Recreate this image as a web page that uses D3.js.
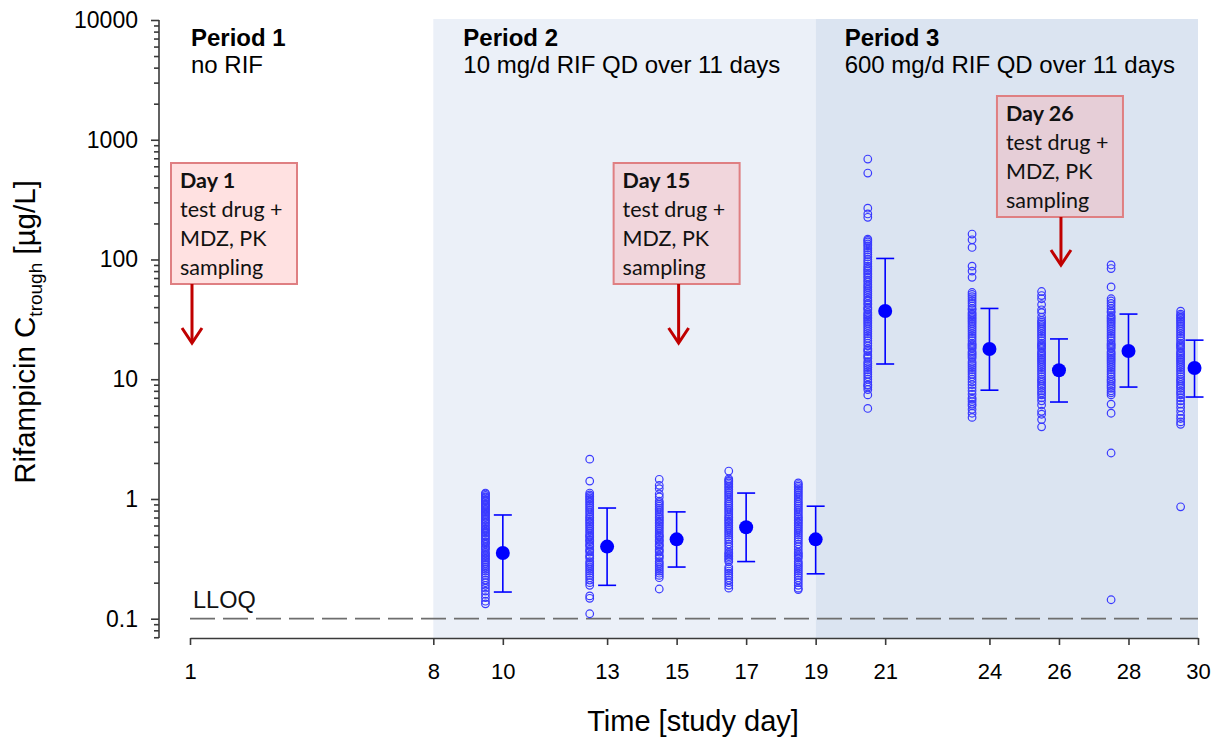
<!DOCTYPE html>
<html>
<head>
<meta charset="utf-8">
<script src="https://cdn.jsdelivr.net/npm/d3@7"></script>
<style>
  html, body { margin: 0; padding: 0; background: #ffffff; }
  svg { display: block; }
</style>
</head>
<body>
<svg id="chart" width="1218" height="740"></svg>
<script>
// ---------------- DATA ----------------
const xTickValues = [1, 8, 10, 13, 15, 17, 19, 21, 24, 26, 28, 30];
const yMajorTicks = [0.1, 1, 10, 100, 1000, 10000];
const yTickLabels = ["0.1", "1", "10", "100", "1000", "10000"];

const periods = [
  { name: "Period 1", desc: "no RIF", start: 1, end: 8 },
  { name: "Period 2", desc: "10 mg/d RIF QD over 11 days", start: 8, end: 19 },
  { name: "Period 3", desc: "600 mg/d RIF QD over 11 days", start: 19, end: 30 }
];

const lloq = 0.1;

// individual trough concentrations (open circles), plotted half a day before each visit
const scatterDays = [9.5, 12.5, 14.5, 16.5, 18.5, 20.5, 23.5, 25.5, 27.5, 29.5];
const vals10 = [1.12, 1.1, 1.07, 1.04, 1.02, 0.99, 0.97, 0.95, 0.92, 0.9, 0.88, 0.86, 0.84, 0.82, 0.8, 0.78, 0.76, 0.74, 0.72, 0.7, 0.68, 0.66, 0.64, 0.62, 0.6, 0.58, 0.56, 0.55, 0.53, 0.52, 0.5, 0.49, 0.47, 0.46, 0.44, 0.43, 0.42, 0.4, 0.39, 0.38, 0.36, 0.35, 0.34, 0.33, 0.32, 0.31, 0.3, 0.29, 0.28, 0.27, 0.26, 0.25, 0.24, 0.23, 0.22, 0.21, 0.2, 0.19, 0.18, 0.17, 0.16, 0.15, 0.14, 0.133];
const vals13 = [2.15, 1.41, 1.12, 1.08, 1.05, 1.02, 0.99, 0.96, 0.93, 0.9, 0.87, 0.84, 0.81, 0.78, 0.75, 0.72, 0.7, 0.68, 0.66, 0.64, 0.62, 0.6, 0.58, 0.56, 0.54, 0.52, 0.5, 0.49, 0.48, 0.46, 0.45, 0.44, 0.42, 0.41, 0.4, 0.38, 0.37, 0.36, 0.34, 0.33, 0.32, 0.3, 0.29, 0.28, 0.27, 0.26, 0.25, 0.24, 0.23, 0.22, 0.21, 0.2, 0.19, 0.155, 0.148, 0.11];
const vals15 = [1.46, 1.3, 1.22, 1.1, 1.04, 0.96, 0.93, 0.9, 0.87, 0.84, 0.81, 0.78, 0.75, 0.72, 0.7, 0.68, 0.66, 0.64, 0.62, 0.6, 0.58, 0.56, 0.54, 0.52, 0.5, 0.49, 0.48, 0.46, 0.45, 0.44, 0.42, 0.41, 0.4, 0.38, 0.37, 0.36, 0.34, 0.33, 0.32, 0.3, 0.29, 0.28, 0.27, 0.26, 0.25, 0.24, 0.23, 0.22, 0.177];
const vals17 = [1.71, 1.47, 1.43, 1.4, 1.36, 1.32, 1.28, 1.24, 1.2, 1.16, 1.12, 1.08, 1.04, 1.0, 0.96, 0.93, 0.9, 0.87, 0.84, 0.81, 0.78, 0.75, 0.72, 0.7, 0.68, 0.66, 0.64, 0.62, 0.6, 0.58, 0.56, 0.54, 0.52, 0.5, 0.48, 0.46, 0.44, 0.42, 0.4, 0.38, 0.36, 0.35, 0.34, 0.33, 0.32, 0.31, 0.3, 0.27, 0.26, 0.25, 0.24, 0.23, 0.22, 0.21, 0.2, 0.19, 0.18];
const vals19 = [1.36, 1.32, 1.28, 1.24, 1.2, 1.16, 1.12, 1.08, 1.04, 1.0, 0.96, 0.93, 0.9, 0.87, 0.84, 0.81, 0.78, 0.75, 0.72, 0.7, 0.68, 0.66, 0.64, 0.62, 0.6, 0.58, 0.56, 0.54, 0.52, 0.5, 0.48, 0.46, 0.44, 0.42, 0.4, 0.38, 0.36, 0.35, 0.34, 0.33, 0.32, 0.3, 0.29, 0.28, 0.27, 0.26, 0.25, 0.24, 0.23, 0.22, 0.21, 0.2, 0.19, 0.18, 0.175];
const vals21 = [690, 527, 268, 240, 225, 148, 144, 140, 135, 130, 125, 120, 115, 110, 105, 100, 96, 92, 88, 85, 82, 80, 77, 75, 72, 70, 67, 65, 62, 60, 58, 56, 54, 52, 50, 48, 46, 45, 43, 42, 40, 39, 38, 36, 35, 34, 33, 32, 31, 30, 29, 28, 27, 26, 25, 24, 23, 22, 21, 20, 19, 18, 17.5, 17, 16, 15.5, 15, 14, 13.5, 13, 12.5, 12, 11.5, 11, 10.5, 10, 9.5, 9, 8.9, 8.6, 8.2, 7.4, 5.7];
const vals24 = [163, 146, 126, 88, 80, 71, 53, 51, 49, 47, 45, 43, 41, 39, 38, 36, 35, 34, 33, 32, 31, 30, 29, 28, 27, 26, 25, 24, 23, 22, 21, 20, 19.5, 19, 18.5, 18, 17, 16.5, 16, 15.5, 15, 14, 13.5, 13, 12.5, 12, 11.5, 11, 10.5, 10, 9.5, 9, 8.5, 8, 7.5, 7, 6.8, 6.5, 6.2, 6, 5.6, 5.2, 4.8];
const vals26 = [54, 50, 47, 42, 38, 36, 33, 31, 30, 29, 28, 27, 26, 25, 24, 23, 22, 21, 20, 19.5, 19, 18.5, 18, 17, 16.5, 16, 15.5, 15, 14.5, 14, 13.5, 13, 12.5, 12, 11.5, 11, 10.5, 10, 9.7, 9.4, 9, 8.7, 8.4, 8, 7.7, 7.4, 7, 6.6, 6.1, 5.4, 5.1, 4.6, 4.0];
const vals28 = [90, 84, 59, 47, 45, 43, 41, 39, 37, 36, 34, 33, 32, 31, 30, 29, 28, 27, 26, 25, 24, 23, 22, 21, 20, 19.5, 19, 18.5, 18, 17, 16.5, 16, 15.5, 15, 14.5, 14, 13.5, 13, 12.5, 12, 11.5, 11, 10.5, 10, 9.7, 9.4, 9, 8.7, 8.4, 8, 7.7, 7.4, 6.2, 5.2, 2.42, 0.144];
const vals30 = [37, 35, 34, 33, 32, 31, 30, 29, 28, 27, 26, 25, 24, 23, 22, 21, 20, 19.5, 19, 18.5, 18, 17, 16.5, 16, 15.5, 15, 14.5, 14, 13.5, 13, 12.5, 12, 11.5, 11, 10.5, 10, 9.7, 9.4, 9, 8.7, 8.4, 8, 7.7, 7.4, 7, 6.6, 6.2, 5.8, 5.4, 5, 4.7, 4.4, 4.2, 0.86];
const scatterValues = [vals10, vals13, vals15, vals17, vals19, vals21, vals24, vals26, vals28, vals30];

// geometric means with error bars
const meanDays  = [10, 13, 15, 17, 19, 21, 24, 26, 28, 29.9];
const meanVals  = [0.354, 0.40, 0.46, 0.58, 0.46, 37.1, 17.9, 11.9, 17.2, 12.4];
const lowerVals = [0.167, 0.19, 0.27, 0.30, 0.237, 13.4, 8.1, 6.45, 8.6, 7.1];
const upperVals = [0.735, 0.84, 0.78, 1.12, 0.87, 102, 39, 21.7, 35, 21.2];

// annotations
const annotDays   = [1, 15, 26];
const annotTitles = ["Day 1", "Day 15", "Day 26"];
const annotLines  = ["test drug +", "MDZ, PK", "sampling"];

// ---------------- CHART ----------------
const svg = d3.select("#chart");
const x = d3.scaleLinear().domain([1, 30]).range([190, 1198]);
const y = d3.scaleLog().domain([0.069, 10000]).range([638, 20]);
const axisY0 = 638;
const axisX0 = 159;
const sansFont = "'Liberation Sans', Arial, sans-serif";

// period shading
const shadeColors = [null, "#ebf0f8", "#dbe4f1"];
periods.forEach((p, i) => {
  if (!shadeColors[i]) return;
  svg.append("rect")
    .attr("x", x(p.start)).attr("y", y(10000) - 1)
    .attr("width", x(p.end) - x(p.start))
    .attr("height", axisY0 - y(10000) + 1)
    .attr("fill", shadeColors[i]);
});

// LLOQ line
svg.append("line")
  .attr("x1", x(1)).attr("x2", x(30))
  .attr("y1", y(lloq)).attr("y2", y(lloq))
  .attr("stroke", "#6e6e6e").attr("stroke-width", 1.8)
  .attr("stroke-dasharray", "25,8");
svg.append("text")
  .attr("x", x(1) + 3).attr("y", y(lloq) - 11)
  .attr("font-family", sansFont)
  .attr("font-size", 23.5).attr("fill", "#111")
  .text("LLOQ");

// period labels
const periodLabelX = [x(1) + 1, x(8) + 30, x(19) + 29];
periods.forEach((p, i) => {
  svg.append("text")
    .attr("x", periodLabelX[i]).attr("y", 46)
    .attr("font-family", sansFont)
    .attr("font-size", 24).attr("font-weight", "bold").attr("fill", "#000")
    .text(p.name);
  svg.append("text")
    .attr("x", periodLabelX[i]).attr("y", 73)
    .attr("font-family", sansFont)
    .attr("font-size", 24).attr("fill", "#000")
    .text(p.desc);
});

// scatter points
const pts = [];
scatterValues.forEach((arr, gi) => arr.forEach(v => pts.push({ d: scatterDays[gi], v })));
svg.append("g").selectAll("circle").data(pts).join("circle")
  .attr("cx", d => x(d.d)).attr("cy", d => y(d.v)).attr("r", 3.8)
  .attr("fill", "none").attr("stroke", "#3a3aff").attr("stroke-width", 1.2);

// error bars
const eb = svg.append("g").attr("stroke", "#0000ff").attr("stroke-width", 1.6);
meanDays.forEach((d, i) => {
  const cx = x(d);
  eb.append("line").attr("x1", cx).attr("x2", cx).attr("y1", y(upperVals[i])).attr("y2", y(lowerVals[i]));
  eb.append("line").attr("x1", cx - 9).attr("x2", cx + 9).attr("y1", y(upperVals[i])).attr("y2", y(upperVals[i]));
  eb.append("line").attr("x1", cx - 9).attr("x2", cx + 9).attr("y1", y(lowerVals[i])).attr("y2", y(lowerVals[i]));
});
svg.append("g").selectAll("circle").data(meanDays).join("circle")
  .attr("cx", d => x(d)).attr("cy", (d, i) => y(meanVals[i])).attr("r", 7)
  .attr("fill", "#0000ff");

// annotation boxes
const boxTop = [163, 163, 96];
const boxLeftOffset = [-21, -65, -64];
const boxW = 126, boxH = 121;
annotDays.forEach((d, i) => {
  const ax = x(d) + 2;
  const bx = ax + boxLeftOffset[i];
  const by = boxTop[i];
  const g = svg.append("g");
  g.append("rect").attr("x", bx).attr("y", by).attr("width", boxW).attr("height", boxH)
    .attr("fill", "#ff9a9a").attr("fill-opacity", 0.3)
    .attr("stroke", "#df7f82").attr("stroke-width", 2);
  const t = g.append("text").attr("font-family", "Lato, 'Open Sans', sans-serif")
    .attr("font-size", 21.5).attr("fill", "#111");
  t.append("tspan").attr("x", bx + 9).attr("y", by + 25).attr("font-weight", "bold").text(annotTitles[i]);
  annotLines.forEach((l, j) => {
    t.append("tspan").attr("x", bx + 9).attr("y", by + 54 + j * 29).text(l);
  });
  const tipY = by + boxH + 59 - (i === 2 ? 11 : 0);
  g.append("line").attr("x1", ax).attr("x2", ax).attr("y1", by + boxH).attr("y2", tipY - 1)
    .attr("stroke", "#c00000").attr("stroke-width", 3);
  g.append("path")
    .attr("d", `M${ax - 10},${tipY - 15} L${ax},${tipY} L${ax + 10},${tipY - 15}`)
    .attr("fill", "none").attr("stroke", "#c00000").attr("stroke-width", 3)
    .attr("stroke-linejoin", "miter");
});

// y axis
const yMinor = [];
[-2, -1, 0, 1, 2, 3].forEach(e => {
  for (let k = 2; k <= 9; k++) {
    const v = k * Math.pow(10, e);
    if (v >= 0.069 && v < 10000) yMinor.push(v);
  }
});
const yAxisG = svg.append("g").attr("transform", `translate(${axisX0},0)`)
  .call(d3.axisLeft(y).tickValues(yMajorTicks).tickSize(8).tickPadding(13)
    .tickFormat((d, i) => yTickLabels[i]));
yAxisG.selectAll(".tick text").attr("font-size", 23);
svg.append("g").attr("transform", `translate(${axisX0},0)`)
  .call(d3.axisLeft(y).tickValues(yMinor).tickSize(5).tickFormat(""))
  .call(g => g.select(".domain").remove());
yAxisG.select(".domain").attr("d", `M0,${y(10000)}V${axisY0}`);

// x axis
const xAxisG = svg.append("g").attr("transform", `translate(0,${axisY0})`)
  .call(d3.axisBottom(x).tickValues(xTickValues).tickSize(7).tickSizeOuter(0).tickPadding(18)
    .tickFormat(d3.format("d")));
xAxisG.selectAll(".tick text").attr("font-size", 22);

svg.selectAll(".tick text").attr("font-family", sansFont).attr("fill", "#000");
svg.selectAll(".domain, .tick line").attr("stroke", "#3a3a3a").attr("stroke-width", 1.6);

// axis titles
svg.append("text")
  .attr("x", 693).attr("y", 731).attr("text-anchor", "middle")
  .attr("font-family", sansFont).attr("font-size", 29).attr("fill", "#000")
  .text("Time [study day]");

const yt = svg.append("text")
  .attr("transform", "translate(35,332) rotate(-90)").attr("text-anchor", "middle")
  .attr("font-family", sansFont).attr("font-size", 29.5).attr("fill", "#000");
yt.append("tspan").text("Rifampicin C");
yt.append("tspan").attr("font-size", 19).attr("dy", 7).text("trough");
yt.append("tspan").attr("dy", -7).text(" [µg/L]");
</script>
</body>
</html>
